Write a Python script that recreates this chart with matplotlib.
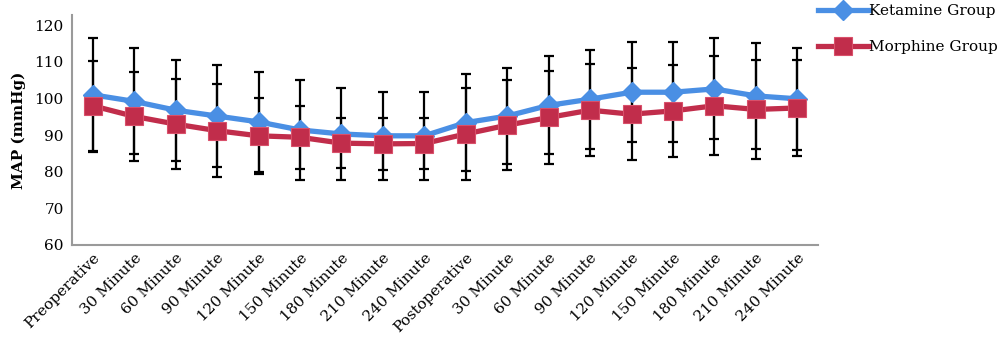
import numpy as np
import matplotlib.pyplot as plt

plt.rcParams['font.family'] = 'DejaVu Serif'

labels = ['Preoperative', '30 Minute', '60 Minute', '90 Minute', '120 Minute',
          '150 Minute', '180 Minute', '210 Minute', '240 Minute',
          'Postoperative', '30 Minute', '60 Minute', '90 Minute', '120 Minute',
          '150 Minute', '180 Minute', '210 Minute', '240 Minute']

ketamine_mean = [101.0, 99.2, 96.8, 95.2, 93.6, 91.4, 90.3, 89.8, 89.8,
                 93.4, 95.2, 98.1, 99.8, 101.7, 101.7, 102.6, 100.7, 99.9]
ketamine_sd = [15.6, 14.5, 13.8, 14.0, 13.7, 13.6, 12.5, 12.0, 12.0,
               13.2, 13.2, 13.4, 13.5, 13.6, 13.7, 13.8, 14.4, 14.0]

morphine_mean = [98.0, 95.1, 93.0, 91.2, 89.8, 89.4, 87.8, 87.6, 87.7,
                 90.3, 92.7, 94.8, 96.8, 95.7, 96.6, 98.0, 97.0, 97.4]
morphine_sd = [12.3, 12.2, 12.3, 12.7, 10.3, 8.6, 6.8, 7.0, 6.9,
               12.6, 12.2, 12.6, 12.6, 12.6, 12.6, 13.5, 13.6, 13.2]

blue = '#4a8fe4'
red = '#c12d4b'

x = np.arange(len(labels))

fig = plt.figure(figsize=(10, 3.47), dpi=100)
ax = fig.add_axes([0.072, 0.294, 0.746, 0.663])

# error bars first so the lines and markers sit on top of them
ax.errorbar(x, ketamine_mean, yerr=ketamine_sd, fmt='none', ecolor='black',
            elinewidth=1.6, capsize=3.5, capthick=1.6, zorder=1)
ax.errorbar(x, morphine_mean, yerr=morphine_sd, fmt='none', ecolor='black',
            elinewidth=1.6, capsize=3.5, capthick=1.6, zorder=1)

ax.plot(x, ketamine_mean, color=blue, lw=3.8, marker='D', markersize=10,
        markeredgecolor=blue, label='Ketamine Group', zorder=3)
ax.plot(x, morphine_mean, color=red, lw=3.8, marker='s', markersize=12.5,
        markeredgecolor='#d9506a', markeredgewidth=0.8,
        label='Morphine Group', zorder=4)

ax.set_xlim(-0.5, len(labels) - 0.5)
ax.set_ylim(60, 122.8)
ax.set_yticks([60, 70, 80, 90, 100, 110, 120])
ax.set_xticks(x)
ax.set_xticklabels(labels, rotation=45, ha='right', rotation_mode='anchor',
                   fontsize=11)
ax.tick_params(axis='both', length=0, labelsize=11)
ax.tick_params(axis='x', pad=4)
ax.tick_params(axis='y', pad=6)

for side in ['top', 'right']:
    ax.spines[side].set_visible(False)
for side in ['left', 'bottom']:
    ax.spines[side].set_color('#9a9a9a')
    ax.spines[side].set_linewidth(1.5)

ax.set_ylabel('MAP (mmHg)', fontsize=11, fontweight='bold', labelpad=6)

fig.legend(loc='upper left', bbox_to_anchor=(0.812, 1.006), frameon=False,
           fontsize=11, handlelength=3.3, handletextpad=0.05,
           labelspacing=1.45, borderaxespad=0)

fig.savefig('out.png', dpi=100)
